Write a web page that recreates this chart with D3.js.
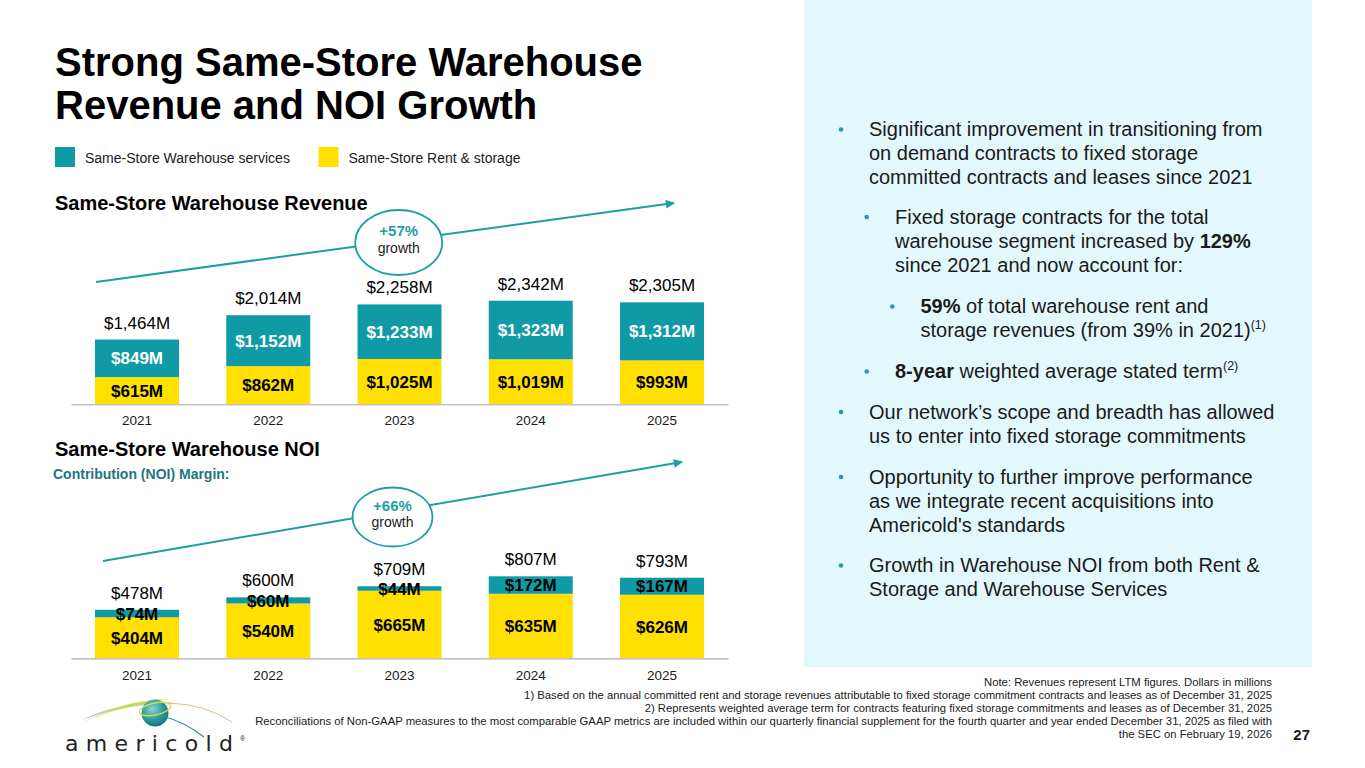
<!DOCTYPE html>
<html>
<head>
<meta charset="utf-8">
<script src="https://cdn.jsdelivr.net/npm/d3@7/dist/d3.min.js"></script>
<style>
  html, body { margin: 0; padding: 0; background: #ffffff; }
  svg { display: block; font-family: "Liberation Sans", Arial, Helvetica, sans-serif; }
</style>
</head>
<body>
<svg id="chart" width="1365" height="768"></svg>
<script>
// ---------------- data ----------------
const years = ["2021", "2022", "2023", "2024", "2025"];
const revServices = [849, 1152, 1233, 1323, 1312];
const revRent = [615, 862, 1025, 1019, 993];
const revTotal = [1464, 2014, 2258, 2342, 2305];
const noiServices = [74, 60, 44, 172, 167];
const noiRent = [404, 540, 665, 635, 626];
const noiTotal = [478, 600, 709, 807, 793];
const revGrowth = "+57%";
const noiGrowth = "+66%";
const legendLabels = ["Same-Store Warehouse services", "Same-Store Rent & storage"];

// ---------------- styles ----------------
const TEAL = "#109aa5";
const YELLOW = "#ffe000";
const LINE_TEAL = "#1c9ea6";
const DARK_TEAL = "#1d7580";
const TEXT = "#1a1a1a";

const svg = d3.select("#chart");
const fmt = v => "$" + d3.format(",")(v) + "M";

// right panel background
svg.append("rect").attr("x", 804).attr("y", 0).attr("width", 508).attr("height", 667).attr("fill", "#e3f8fc");

// title
const title = svg.append("text").attr("x", 55).attr("font-size", 40).attr("font-weight", "bold").attr("fill", "#000");
title.append("tspan").attr("x", 55).attr("y", 76).text("Strong Same-Store Warehouse");
title.append("tspan").attr("x", 55).attr("y", 119).text("Revenue and NOI Growth");

// legend
const legColors = [TEAL, YELLOW];
const legX = [55, 318.5];
legendLabels.forEach((l, i) => {
  svg.append("rect").attr("x", legX[i]).attr("y", 147).attr("width", 20).attr("height", 20).attr("fill", legColors[i]);
  svg.append("text").attr("x", legX[i] + 30).attr("y", 162.5).attr("font-size", 14).attr("fill", TEXT).text(l);
});

// arrow marker
const defs = svg.append("defs");
defs.append("marker").attr("id", "arrow").attr("viewBox", "0 0 10 10").attr("refX", 9).attr("refY", 5)
  .attr("markerWidth", 11).attr("markerHeight", 9).attr("markerUnits", "userSpaceOnUse").attr("orient", "auto")
  .append("path").attr("d", "M0,0 L10,5 L0,10 z").attr("fill", LINE_TEAL);

const x = d3.scaleBand().domain(years).range([71, 728]).paddingInner(0.36).paddingOuter(0.183);

function drawChart(cfg) {
  const g = svg.append("g");
  const y = d3.scaleLinear().domain([0, d3.max(cfg.total)]).range([cfg.base, cfg.top]);

  // section title
  g.append("text").attr("x", 55).attr("y", cfg.titleY).attr("font-size", 20).attr("font-weight", "bold")
    .attr("fill", "#000").text(cfg.title);
  if (cfg.sub) {
    g.append("text").attr("x", 53).attr("y", cfg.subY).attr("font-size", 14).attr("font-weight", "bold")
      .attr("fill", DARK_TEAL).text(cfg.sub);
  }

  // growth arrow + ellipse
  g.append("line").attr("x1", cfg.arrow[0]).attr("y1", cfg.arrow[1]).attr("x2", cfg.arrow[2]).attr("y2", cfg.arrow[3])
    .attr("stroke", LINE_TEAL).attr("stroke-width", 2).attr("marker-end", "url(#arrow)");
  g.append("ellipse").attr("cx", cfg.ell[0]).attr("cy", cfg.ell[1]).attr("rx", cfg.ell[2]).attr("ry", cfg.ell[3])
    .attr("fill", "#fff").attr("stroke", LINE_TEAL).attr("stroke-width", 1.8);
  g.append("text").attr("x", cfg.ell[0]).attr("y", cfg.ell[1] - 6.5).attr("text-anchor", "middle")
    .attr("font-size", 15).attr("font-weight", "bold").attr("fill", LINE_TEAL).text(cfg.growth);
  g.append("text").attr("x", cfg.ell[0]).attr("y", cfg.ell[1] + 10).attr("text-anchor", "middle")
    .attr("font-size", 14).attr("fill", TEXT).text("growth");

  const rows = years.map((yr, i) => ({ yr, rent: cfg.rent[i], serv: cfg.serv[i], total: cfg.total[i] }));

  // rent (bottom) segments
  g.selectAll(".rent").data(rows).join("rect")
    .attr("x", d => x(d.yr)).attr("width", x.bandwidth())
    .attr("y", d => y(d.rent)).attr("height", d => y(0) - y(d.rent)).attr("fill", YELLOW);
  // services (top) segments
  g.selectAll(".serv").data(rows).join("rect")
    .attr("x", d => x(d.yr)).attr("width", x.bandwidth())
    .attr("y", d => y(d.rent + d.serv)).attr("height", d => y(d.rent) - y(d.rent + d.serv)).attr("fill", TEAL);

  // segment labels
  g.selectAll(".rentLbl").data(rows).join("text")
    .attr("x", d => x(d.yr) + x.bandwidth() / 2).attr("y", d => (y(0) + y(d.rent)) / 2).attr("dy", "0.36em")
    .attr("text-anchor", "middle").attr("font-size", 17).attr("font-weight", "bold").attr("fill", "#000")
    .text(d => fmt(d.rent));
  g.selectAll(".servLbl").data(rows).join("text")
    .attr("x", d => x(d.yr) + x.bandwidth() / 2).attr("y", d => (y(d.rent) + y(d.rent + d.serv)) / 2).attr("dy", "0.36em")
    .attr("text-anchor", "middle").attr("font-size", 17).attr("font-weight", "bold").attr("fill", cfg.servLblColor)
    .text(d => fmt(d.serv));
  // totals
  g.selectAll(".totLbl").data(rows).join("text")
    .attr("x", d => x(d.yr) + x.bandwidth() / 2).attr("y", d => y(d.total) - 11)
    .attr("text-anchor", "middle").attr("font-size", 17).attr("fill", "#000")
    .text(d => fmt(d.total));

  // axis
  const ax = g.append("g").attr("transform", `translate(0,${cfg.base})`)
    .call(d3.axisBottom(x).tickSize(0).tickPadding(cfg.pad));
  ax.select(".domain").attr("stroke", "#c4c4c4").attr("stroke-width", 1.6);
  ax.selectAll(".tick text").attr("font-size", 13.5).attr("fill", TEXT)
    .attr("font-family", "'Liberation Sans', Arial, sans-serif");
}

drawChart({
  title: "Same-Store Warehouse Revenue", titleY: 210,
  rent: revRent, serv: revServices, total: revTotal,
  base: 404.3, top: 300.7, pad: 11,
  arrow: [96, 282, 674, 203], ell: [398.7, 242.5, 43.5, 32.5], growth: revGrowth,
  servLblColor: "#ffffff"
});
drawChart({
  title: "Same-Store Warehouse NOI", titleY: 456,
  sub: "Contribution (NOI) Margin:", subY: 479,
  rent: noiRent, serv: noiServices, total: noiTotal,
  base: 658.4, top: 576.3, pad: 12,
  arrow: [103, 561, 682, 462], ell: [392.5, 517, 40, 29.5], growth: noiGrowth,
  servLblColor: "#000000"
});

// ---------------- right panel bullets ----------------
const bullets = [
  { lvl: 0, lines: [[["Significant improvement in transitioning from"]], [["on demand contracts to fixed storage"]], [["committed contracts and leases since 2021"]]], y: 136 },
  { lvl: 1, lines: [[["Fixed storage contracts for the total"]], [["warehouse segment increased by "], ["129%", "b"]], [["since 2021 and now account for:"]]], y: 223.5 },
  { lvl: 2, lines: [[["59%", "b"], [" of total warehouse rent and"]], [["storage revenues (from 39% in 2021)"], ["(1)", "sup"]]], y: 313 },
  { lvl: 1, lines: [[["8-year", "b"], [" weighted average stated term"], ["(2)", "sup"]]], y: 378 },
  { lvl: 0, lines: [[["Our network\u2019s scope and breadth has allowed"]], [["us to enter into fixed storage commitments"]]], y: 418.5 },
  { lvl: 0, lines: [[["Opportunity to further improve performance"]], [["as we integrate recent acquisitions into"]], [["Americold's standards"]]], y: 483.5 },
  { lvl: 0, lines: [[["Growth in Warehouse NOI from both Rent &"]], [["Storage and Warehouse Services"]]], y: 572 }
];
const dotX = [841, 866.7, 892.3];
const txtX = [869, 895, 920.5];
bullets.forEach(b => {
  svg.append("circle").attr("cx", dotX[b.lvl]).attr("cy", b.y - 6.5).attr("r", 2.3).attr("fill", LINE_TEAL);
  b.lines.forEach((ln, j) => {
    const t = svg.append("text").attr("x", txtX[b.lvl]).attr("y", b.y + j * 24).attr("font-size", 20).attr("fill", TEXT);
    ln.forEach(seg => {
      const ts = t.append("tspan").text(seg[0]);
      if (seg[1] === "b") ts.attr("font-weight", "bold");
      if (seg[1] === "sup") ts.attr("font-size", 12.5).attr("dy", -8);
    });
  });
});

// ---------------- footnotes ----------------
const notes = [
  "Note: Revenues represent LTM figures. Dollars in millions",
  "1) Based on the annual committed rent and storage revenues attributable to fixed storage commitment contracts and leases as of December 31, 2025",
  "2) Represents weighted average term for contracts featuring fixed storage commitments and leases as of December 31, 2025",
  "Reconciliations of Non-GAAP measures to the most comparable GAAP metrics are included within our quarterly financial supplement for the fourth quarter and year ended December 31, 2025 as filed with",
  "the SEC on February 19, 2026"
];
notes.forEach((n, i) => {
  svg.append("text").attr("x", 1272).attr("y", 686 + i * 12.9).attr("text-anchor", "end")
    .attr("font-size", 11.3).attr("fill", TEXT).text(n);
});
svg.append("text").attr("x", 1310).attr("y", 740).attr("text-anchor", "end").attr("font-size", 15)
  .attr("font-weight", "bold").attr("fill", TEXT).text("27");

// ---------------- logo ----------------
const logo = svg.append("g");
const rg = defs.append("radialGradient").attr("id", "globe").attr("cx", "40%").attr("cy", "35%").attr("r", "70%");
rg.append("stop").attr("offset", "0%").attr("stop-color", "#8fd3cf");
rg.append("stop").attr("offset", "55%").attr("stop-color", "#2f9ea3");
rg.append("stop").attr("offset", "100%").attr("stop-color", "#0d6f7a");
const sg = defs.append("linearGradient").attr("id", "swoosh").attr("x1", "0").attr("x2", "1");
sg.append("stop").attr("offset", "0%").attr("stop-color", "#d9e7a0").attr("stop-opacity", 0.4);
sg.append("stop").attr("offset", "60%").attr("stop-color", "#c9dc2e");
sg.append("stop").attr("offset", "100%").attr("stop-color", "#e4ea6a");
logo.append("path").attr("d", "M82,720 Q125,699 175,703 Q125,704 82,720 Z").attr("fill", "#9fbcc0").attr("opacity", 0.8);
logo.append("path").attr("d", "M80,724 Q120,700 170,699 Q122,705 80,724 Z").attr("fill", "url(#swoosh)");
logo.append("circle").attr("cx", 155).attr("cy", 713).attr("r", 13.5).attr("fill", "url(#globe)");
logo.append("ellipse").attr("cx", 155).attr("cy", 709).attr("rx", 16).attr("ry", 6).attr("transform", "rotate(-12,155,709)")
  .attr("fill", "none").attr("stroke", "#d4e33a").attr("stroke-width", 1.3);
logo.append("path").attr("d", "M168,703 Q205,704 232,722").attr("fill", "none").attr("stroke", "#f1b77a").attr("stroke-width", 1);
logo.append("path").attr("d", "M162,716 Q185,722 204,737").attr("fill", "none").attr("stroke", "#2f8f9a").attr("stroke-width", 1.2);
logo.append("text").attr("x", 65).attr("y", 751).attr("font-size", 22).attr("textLength", 168).attr("lengthAdjust", "spacing")
  .attr("font-family", "'DejaVu Sans', sans-serif").attr("fill", "#222").text("americold");
logo.append("text").attr("x", 240).attr("y", 741).attr("font-size", 7).attr("fill", "#222").text("\u00ae");
</script>
</body>
</html>
